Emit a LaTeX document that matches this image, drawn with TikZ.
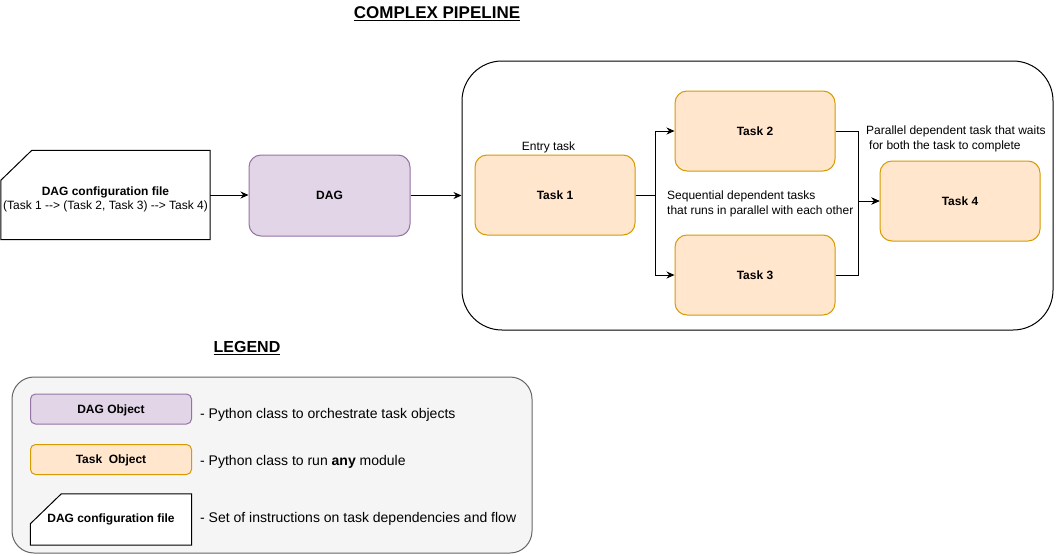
\documentclass[tikz,border=0pt]{standalone}
\usepackage{fontspec}
\setmainfont{Liberation Sans}
\usetikzlibrary{arrows.meta,calc}
\definecolor{taskfill}{HTML}{FFE6CC}
\definecolor{taskstroke}{HTML}{D79B00}
\definecolor{dagfill}{HTML}{E1D5E7}
\definecolor{dagstroke}{HTML}{9673A6}
\definecolor{legfill}{HTML}{F5F5F5}
\definecolor{legstroke}{HTML}{666666}
\tikzset{
  taskbox/.style={rectangle, rounded corners=12pt, draw=taskstroke, fill=taskfill, line width=1pt,
    minimum width=160pt, minimum height=80pt, inner sep=0pt, text depth=0pt, font=\bfseries\fontsize{12}{14}\selectfont},
  dagbox/.style={taskbox, draw=dagstroke, fill=dagfill, minimum width=161pt, minimum height=81pt},
  smalltask/.style={taskbox, rounded corners=5pt, minimum width=161pt, minimum height=30pt, font=\bfseries\fontsize{12}{14}\selectfont},
  smalldag/.style={smalltask, draw=dagstroke, fill=dagfill},
  docbox/.style={rectangle, draw=none, inner sep=0pt, align=center, font=\fontsize{12}{14}\selectfont},
  docline/.style={draw=black, line width=1pt, fill=white},
  arr/.style={draw=black, line width=1pt, -{Stealth[length=8pt,width=7pt]}},
  lbl/.style={inner sep=0pt, font=\fontsize{12}{14.5}\selectfont},
  desc/.style={inner sep=0pt, anchor=west, font=\fontsize{14}{16}\selectfont},
  heading/.style={inner sep=0pt, font=\bfseries\fontsize{17}{20}\selectfont},
}
\begin{document}
\begin{tikzpicture}[x=1pt,y=-1pt]
\useasboundingbox (0,0) rectangle (1056,555);
\fill[white] (0,0) rectangle (1056,555);

% title
\node[heading] (title) at (437,14) {\underline{COMPLEX PIPELINE}};

% config file
\node[docbox, minimum width=209pt, minimum height=89pt] (cfg) at (105.5,195) {};
\draw[docline] ($(cfg.north west)+(31,0)$) -- (cfg.north east) -- (cfg.south east) -- (cfg.south west) -- ($(cfg.north west)+(0,30)$) -- cycle;
\node[docbox] (cfgtext) at (105.5,199) {\textbf{DAG configuration file}\\(Task 1 {-}{-}> (Task 2, Task 3) {-}{-}> Task 4)};

% DAG
\node[dagbox] (dag) at (329.5,195.5) {DAG};

% pipeline container
\node[rectangle, draw=black, line width=1pt, rounded corners=40pt, minimum width=591pt, minimum height=269pt] (pipe) at (757.5,195.5) {};

% tasks
\node[taskbox] (t1) at (555,195) {Task 1};
\node[taskbox] (t2) at (755,131) {Task 2};
\node[taskbox] (t3) at (755,275) {Task 3};
\node[taskbox] (t4) at (960,201) {Task 4};

% connectors
\draw[arr] (cfg.east) -- (cfg.east -| dag.west);
\draw[arr] (dag.east) -- (dag.east -| pipe.west);
\draw[arr] (t1.east) -- ++(20,0) |- (t2.west);
\draw[arr] (t1.east) -- ++(20,0) |- (t3.west);
\draw[arr] (t2.east) -- ++(23,0) |- (t4.west);
\draw[arr] (t3.east) -- ++(23,0) |- (t4.west);

% labels
\node[lbl] (entry) at (548.5,147) {Entry task};
\node[lbl, anchor=west, align=left] (seq) at (667,204) {Sequential dependent tasks\\that runs in parallel with each other};
\node[lbl, anchor=west, align=left] (par) at (866,139) {Parallel dependent task that waits\\\hspace{3pt}for both the task to complete};

% legend
\node[heading, font=\bfseries\fontsize{16}{19}\selectfont] (legend) at (247,348) {\underline{LEGEND}};
\node[rectangle, draw=legstroke, fill=legfill, line width=1pt, rounded corners=22pt, minimum width=520pt, minimum height=176pt] (legbox) at (272,465) {};
\node[smalldag] (dagobj) at (111,409) {DAG Object};
\node[smalltask] (taskobj) at (111,459.5) {Task\ \ Object};
\node[docbox, minimum width=161pt, minimum height=51pt] (cfgobj) at (111,519.5) {};
\draw[docline] ($(cfgobj.north west)+(31,0)$) -- (cfgobj.north east) -- (cfgobj.south east) -- (cfgobj.south west) -- ($(cfgobj.north west)+(0,30)$) -- cycle;
\node[docbox, font=\bfseries\fontsize{12}{14}\selectfont] (cfgobjtext) at (cfgobj.center) {DAG configuration file};

\node[desc] (d1) at (200,415) {- Python class to orchestrate task objects};
\node[desc] (d2) at (200,462) {- Python class to run \textbf{any} module};
\node[desc] (d3) at (200,519) {- Set of instructions on task dependencies and flow};
\end{tikzpicture}
\end{document}
